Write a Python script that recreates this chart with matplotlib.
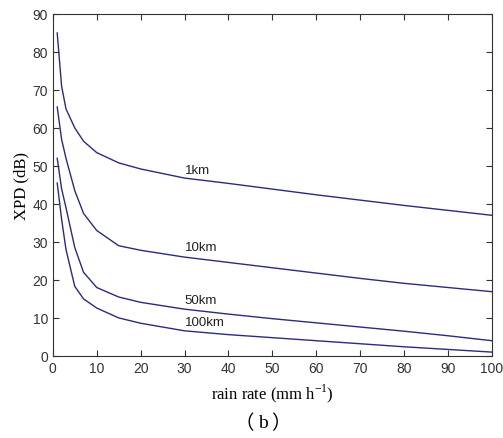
import matplotlib.pyplot as plt

rain = [1, 2, 3, 5, 7, 10, 15, 20, 30, 40, 50, 60, 70, 80, 90, 100]
xpd_1km = [85, 71, 65, 60, 56.5, 53.5, 50.8, 49.2, 46.8, 45.4, 43.9, 42.4, 41.0, 39.6, 38.3, 37.0]
xpd_10km = [65.5, 57, 52, 43.5, 37.5, 33, 29, 27.8, 26.0, 24.6, 23.2, 21.8, 20.4, 19.1, 18.0, 16.9]
xpd_50km = [52, 44, 39, 28.5, 22, 18, 15.5, 14.1, 12.3, 11.0, 9.8, 8.7, 7.6, 6.5, 5.3, 4.0]
xpd_100km = [45.5, 36, 28, 18.3, 15, 12.6, 10, 8.6, 6.6, 5.6, 4.8, 4.0, 3.2, 2.4, 1.7, 1.0]

labels = ['1km', '10km', '50km', '100km']
label_x = [30, 30, 30, 30]
label_y = [49, 28.7, 14.8, 8.9]

fig = plt.figure(figsize=(5.03, 4.39), dpi=100)
ax = fig.add_axes([0.105, 0.187, 0.873, 0.779])

line_color = '#2b2b7f'
for ys in (xpd_1km, xpd_10km, xpd_50km, xpd_100km):
    ax.plot(rain, ys, color=line_color, lw=1.0)

for lab, lx, ly in zip(labels, label_x, label_y):
    ax.text(lx, ly, lab, fontsize=9.5, family='Liberation Sans', va='center', ha='left', color='#222222')

ax.set_xlim(0, 100)
ax.set_ylim(0, 90)
ax.set_xticks(range(0, 101, 10))
ax.set_yticks(range(0, 91, 10))
ax.tick_params(direction='in', top=True, right=True, length=4, labelsize=10, colors='#333333')
for t in ax.get_xticklabels() + ax.get_yticklabels():
    t.set_family('Liberation Sans')
for s in ax.spines.values():
    s.set_color('#333333')
    s.set_linewidth(0.8)

ax.set_ylabel('XPD (dB)', family='Liberation Serif', fontsize=12, labelpad=2)
ax.set_xlabel('rain rate (mm h$^{\\mathregular{-1}}$)', family='Liberation Serif', fontsize=12, labelpad=5)

# caption: full-width parentheses from the CJK font, serif b
fig.text(0.485, 0.036, '（', family='Noto Sans CJK SC', fontsize=14, ha='center', va='center')
fig.text(0.522, 0.036, 'b', family='Liberation Serif', fontsize=14, ha='center', va='center')
fig.text(0.558, 0.036, '）', family='Noto Sans CJK SC', fontsize=14, ha='center', va='center')

fig.savefig('out.png', dpi=100)
